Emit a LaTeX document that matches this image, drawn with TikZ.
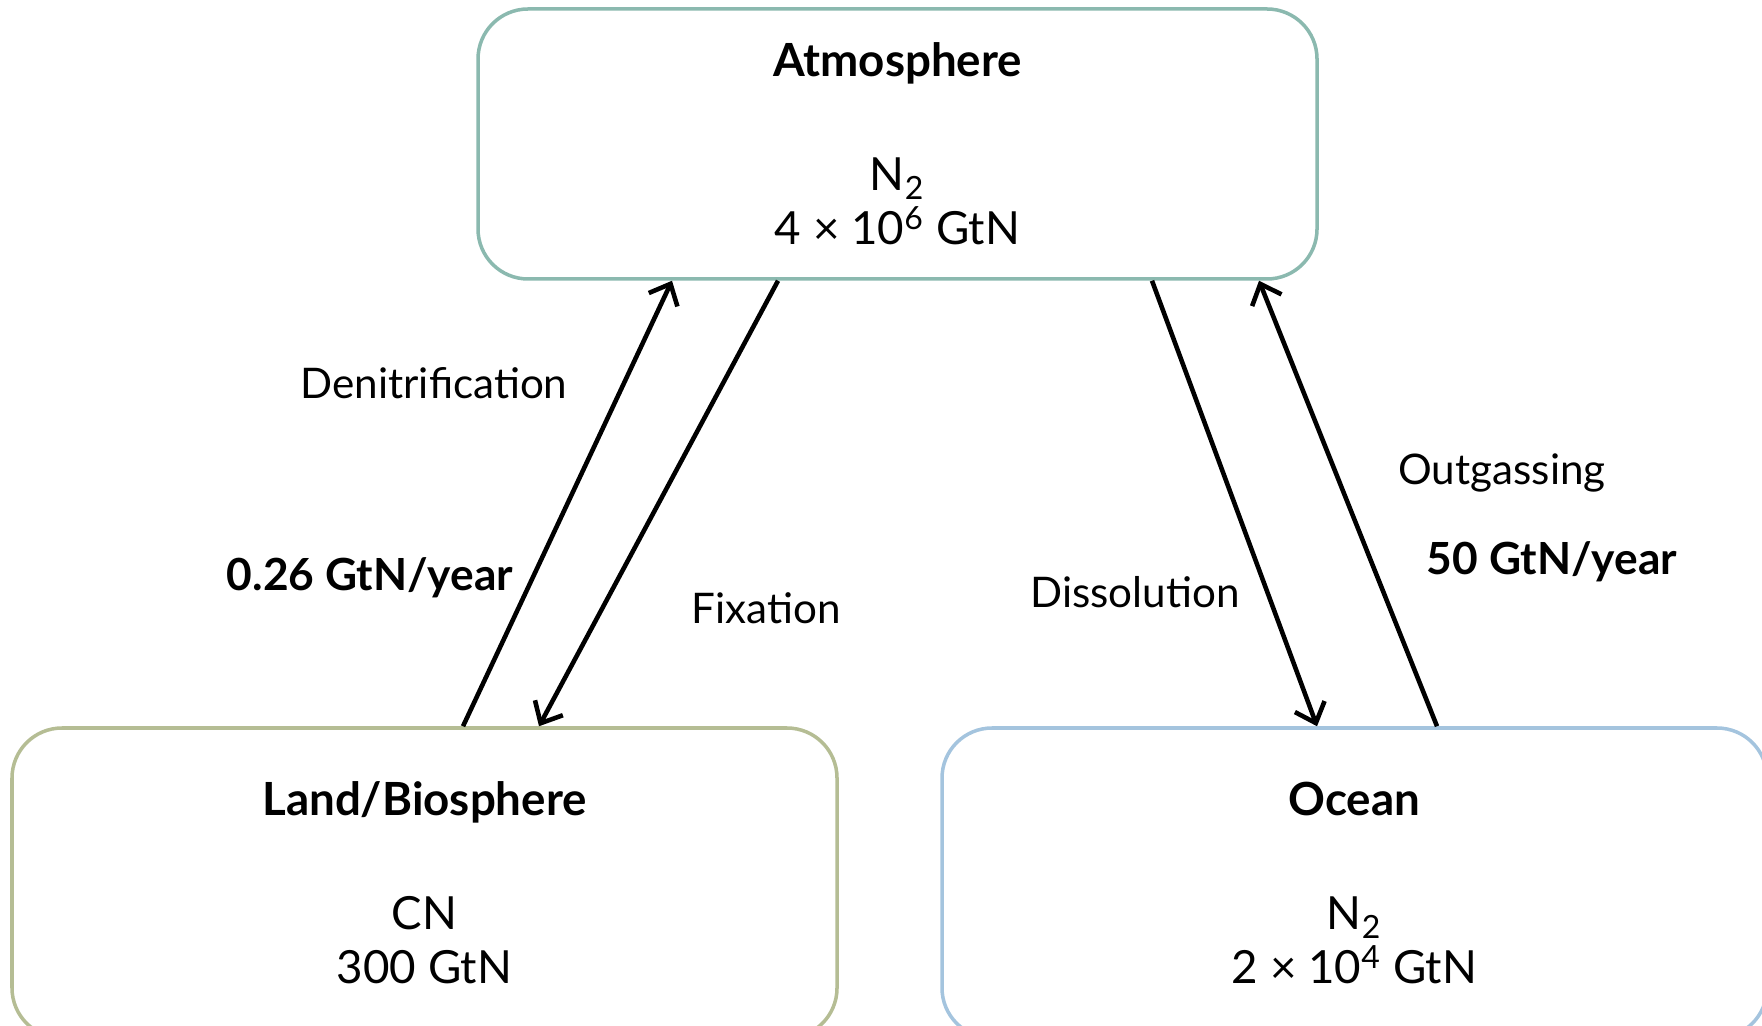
\documentclass[tikz,border=0pt]{standalone}
\usepackage{fontspec}
\setmainfont{Lato}
\usetikzlibrary{arrows.meta}

\definecolor{atmline}{RGB}{139,185,175}
\definecolor{landline}{RGB}{181,189,148}
\definecolor{oceanline}{RGB}{164,196,222}

\begin{document}
\begin{tikzpicture}[
    pool/.style={rectangle, rounded corners=0.5cm, line width=1pt, fill=white,
        align=center, font=\fontsize{13}{15.4}\selectfont},
    flow/.style={line width=1.3pt, -{Straight Barb[length=5pt,width=9pt]}},
    lbl/.style={font=\fontsize{12}{15.4}\selectfont},
    rate/.style={font=\fontsize{12.6}{15.4}\selectfont\bfseries}
]
    \useasboundingbox (0,0) rectangle (17.62,-10.26);
    \begin{scope}
    \clip (0,0) rectangle (17.62,-10.26);
    \node[pool, draw=atmline, minimum width=8.39cm, minimum height=2.70cm] (atm) at (8.975,-1.44)
        {\textbf{Atmosphere}\\[17pt]N\textsubscript{2}\\4 × 10\textsuperscript{6} GtN};
    \node[pool, draw=landline, minimum width=8.25cm, minimum height=3.10cm] (land) at (4.245,-8.83)
        {\textbf{Land/Biosphere}\\[17pt]CN\\300 GtN};
    \node[pool, draw=oceanline, minimum width=8.25cm, minimum height=3.10cm] (ocean) at (13.545,-8.83)
        {\textbf{Ocean}\\[17pt]N\textsubscript{2}\\2 × 10\textsuperscript{4} GtN};
    \end{scope}
    \draw[flow] ([xshift=0.385cm]land.north) -- ([xshift=-2.255cm]atm.south);
    \draw[flow] ([xshift=-1.195cm]atm.south) -- ([xshift=1.145cm]land.north);
    \draw[flow] ([xshift=2.545cm]atm.south) -- ([xshift=-0.375cm]ocean.north);
    \draw[flow] ([xshift=0.825cm]ocean.north) -- ([xshift=3.615cm]atm.south);
    \node[lbl] (denit) at (4.34,-3.83) {Denitrification};
    \node[rate] (denitrate) at (3.70,-5.78) {0.26 GtN/year};
    \node[lbl] (fix) at (7.66,-6.08) {Fixation};
    \node[lbl] (diss) at (11.35,-5.92) {Dissolution};
    \node[lbl] (outg) at (15.02,-4.73) {Outgassing};
    \node[rate] (outgrate) at (15.52,-5.62) {50 GtN/year};
\end{tikzpicture}
\end{document}
